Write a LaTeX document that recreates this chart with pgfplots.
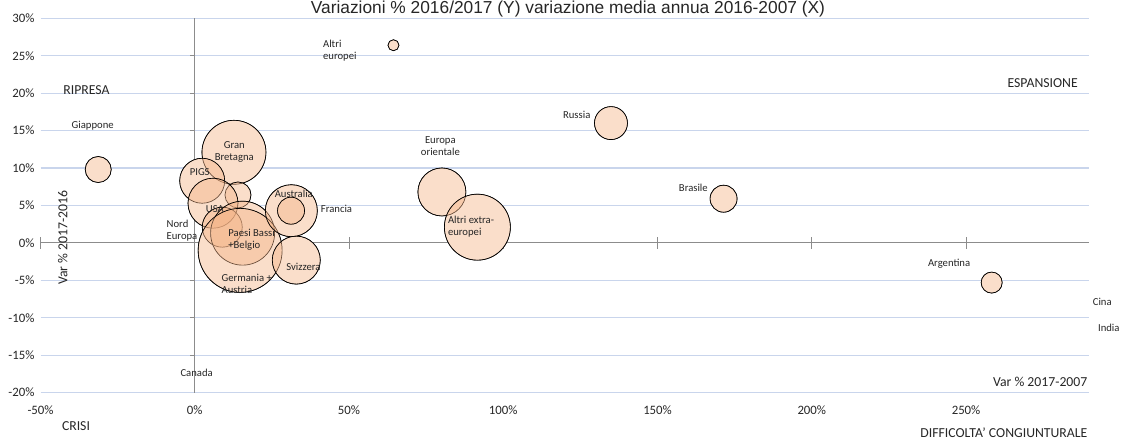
\documentclass[border=0pt]{standalone}
\usepackage{fontspec}
\setmainfont{Carlito}
\newfontfamily\arialfont{Liberation Sans}
\usepackage{pgfplots}
\usepackage{pgfplotstable}
\pgfplotsset{compat=1.18}

\definecolor{gridblue}{HTML}{C9D5EC}
\definecolor{axgray}{HTML}{8C8C8C}
\definecolor{bub}{HTML}{F4B183}
\definecolor{txt}{HTML}{262626}

% bubble centres (x = var. media annua 2016-2007, y = var. 2016/2017), r = radius in px
\pgfplotstableread{
x      y     r
-31.3  9.8   13
64.4   26.4  5.5
134.9  16.0  16.5
171.4  5.9   13.5
258.3  -5.3  10.5
80.1   6.8   24
91.6   2.1   33
12.7   12.1  32
2.4    8.3   22.5
14.0   6.4   13
5.9    5.3   25
8.9    2.1   20
15.5   1.3   32
14.7   -1.0  42
31.3   4.3   26
31.2   4.3   13.5
32.9   -2.3  24
}\bubbles

\pgfplotsset{
  base/.style={scale only axis, width=786.75pt, height=280.8pt,
    xmin=-50, xmax=290, ymin=-20, ymax=30, at={(0,0)}, anchor=south west},
}
\tikzset{
  lbl/.style={font=\fontsize{8}{9.2}\selectfont, inner sep=0pt, text=txt},
  big/.style={font=\fontsize{10.3}{12}\selectfont, inner sep=0pt, text=txt},
}

\begin{document}
\begin{tikzpicture}
\useasboundingbox (-30.4pt,-35.5pt) rectangle (810.4pt,294.5pt);

% grid and tick labels
\begin{axis}[base,
  axis lines*=left, axis line style={draw=none}, major tick length=0pt,
  xtick={-50,0,...,250}, ytick={-20,-15,...,30},
  ymajorgrids, grid style={gridblue, line width=0.8pt},
  /pgf/number format/assume math mode=true,
  xticklabel={\pgfmathprintnumber{\tick}\%},
  yticklabel={\pgfmathprintnumber{\tick}\%},
  ticklabel style={font=\fontsize{9.6}{11}\selectfont, text=txt},
  xticklabel style={anchor=center, yshift=-13.5pt},
  yticklabel style={anchor=east, xshift=-1pt},
]
\end{axis}

% horizontal zero line
\begin{axis}[base,
  axis x line=middle, axis y line=none, axis line style={-, axgray, line width=0.8pt},
  xtick={-50,50,100,150,200,250}, ytick=\empty, xticklabels={},
  xtick align=center, major tick length=9pt, tick style={axgray, line width=0.6pt},
]
\end{axis}

% vertical zero line and bubbles
\begin{axis}[base, clip=false,
  axis y line=middle, axis x line=none, axis line style={-, axgray, line width=0.8pt},
  ytick={-15,-10,...,25}, xtick=\empty, yticklabels={},
  ytick align=outside, major tick length=3.5pt, tick style={axgray, line width=0.6pt},
]
\addplot[scatter, only marks, mark=*, point meta=y,
  scatter/use mapped color={draw=none, fill=white},
  visualization depends on={\thisrow{r}*0.75 \as \rr},
  scatter/@pre marker code/.append style={/tikz/mark size=\rr}]
  table[x=x, y=y] {\bubbles};
\addplot[scatter, only marks, mark=*, point meta=y,
  scatter/use mapped color={draw=black, fill=bub, fill opacity=0.42, line width=0.5pt},
  visualization depends on={\thisrow{r}*0.75 \as \rr},
  scatter/@pre marker code/.append style={/tikz/mark size=\rr}]
  table[x=x, y=y] {\bubbles};
\end{axis}

% labels on top
\begin{axis}[base, hide axis, clip=false]
\node[lbl] at (axis cs:-33.1,15.7) {Giappone};
\node[lbl, anchor=west, align=left] at (axis cs:41.5,25.7) {Altri\\europei};
\node[lbl] at (axis cs:123.8,17.1) {Russia};
\node[lbl] at (axis cs:161.6,7.3) {Brasile};
\node[lbl, align=center] at (axis cs:79.6,12.9) {Europa\\orientale};
\node[lbl, anchor=west, align=left] at (axis cs:82.0,2.2) {Altri extra-\\europei};
\node[lbl, align=center] at (axis cs:12.8,12.1) {Gran\\Bretagna};
\node[lbl] at (axis cs:1.6,9.5) {PIGS};
\node[lbl] at (axis cs:6.5,4.5) {USA};
\node[lbl, anchor=west, align=left] at (axis cs:-9.2,1.6) {Nord\\Europa};
\node[lbl, anchor=west, align=left] at (axis cs:10.8,0.4) {Paesi Bassi\\+Belgio};
\node[lbl, anchor=west, align=left] at (axis cs:8.6,-5.5) {Germania +\\Austria};
\node[lbl] at (axis cs:32.1,6.5) {Australia};
\node[lbl, anchor=west] at (axis cs:40.8,4.5) {Francia};
\node[lbl] at (axis cs:35.2,-3.2) {Svizzera};
\node[lbl] at (axis cs:244.5,-2.8) {Argentina};
\node[lbl, anchor=west] at (axis cs:291.0,-7.9) {Cina};
\node[lbl, anchor=west] at (axis cs:292.7,-11.3) {India};
\node[lbl] at (axis cs:0.6,-17.4) {Canada};

\node[big] at (axis cs:-35.1,20.4) {RIPRESA};
\node[big, anchor=east] at (axis cs:286.3,21.3) {ESPANSIONE};
\node[big] at (axis cs:-38.5,-24.5) {CRISI};
\node[big, anchor=east] at (axis cs:289.4,-25.3) {DIFFICOLTA' CONGIUNTURALE};
\node[big, anchor=east] at (axis cs:289.4,-18.5) {Var \% 2017-2007};
\node[big, rotate=90] at (axis cs:-42.8,0.7) {Var \% 2017-2016};
\end{axis}

\node[font=\arialfont\fontsize{13}{15}\selectfont, anchor=base, text=txt, inner sep=0pt]
  at (395.6pt,284pt) {Variazioni \% 2016/2017 (Y) variazione media annua 2016-2007 (X)};
\end{tikzpicture}
\end{document}
